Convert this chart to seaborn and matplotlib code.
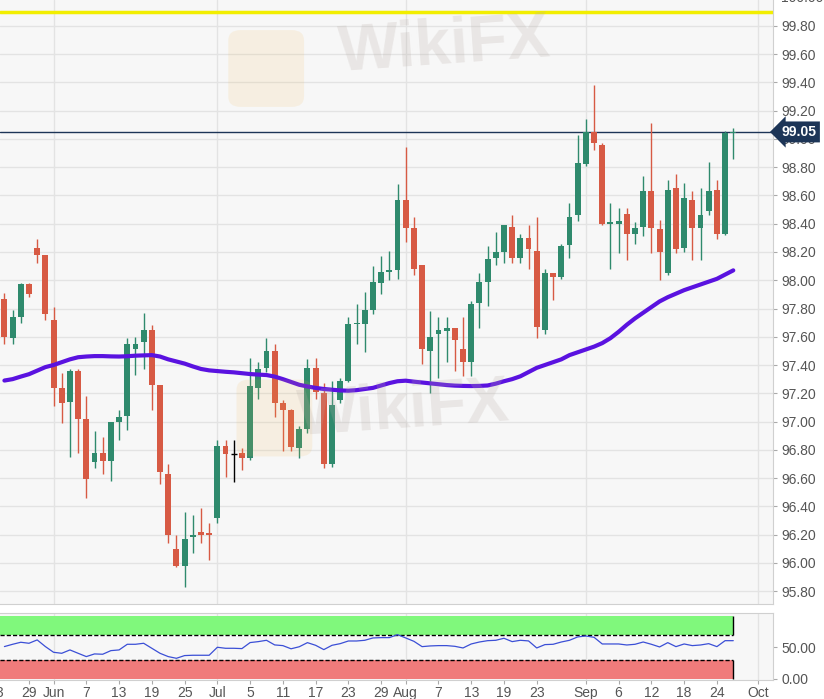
import matplotlib
matplotlib.use('Agg')
import matplotlib.pyplot as plt
import matplotlib.transforms as mtransforms
from matplotlib.patches import FancyBboxPatch
import pandas as pd
import seaborn as sns

# Daily candles, 24 May - 26 Sep (trading days only)
opens = [97.87, 97.59, 97.74, 97.97, 98.23, 98.18, 97.72, 97.24, 97.14, 97.36,
         97.02, 96.71, 96.78, 96.72, 97.00, 97.04, 97.51, 97.56, 97.65, 97.26,
         96.63, 96.10, 95.98, 96.18, 96.22, 96.21, 96.32, 96.83, 96.77, 96.78,
         96.74, 97.24, 97.38, 97.50, 97.13, 97.08, 96.81, 96.95, 97.38, 97.20,
         96.70, 97.15, 97.29, 97.69, 97.69, 97.79, 97.98, 98.06, 98.07, 98.57,
         98.37, 98.11, 97.50, 97.62, 97.64, 97.66, 97.51, 97.42, 97.84, 97.99,
         98.16, 98.20, 98.38, 98.16, 98.30, 98.21, 97.65, 98.05, 98.02, 98.25,
         98.46, 98.82, 99.05, 98.96, 98.40, 98.40, 98.47, 98.33, 98.38, 98.63,
         98.36, 98.05, 98.65, 98.23, 98.57, 98.37, 98.49, 98.64, 98.33, 99.04]
highs = [97.91, 97.79, 97.98, 97.98, 98.29, 98.18, 97.81, 97.34, 97.37, 97.37,
         97.18, 96.93, 96.89, 97.00, 97.08, 97.59, 97.60, 97.77, 97.68, 97.26,
         96.70, 96.20, 96.36, 96.34, 96.39, 96.28, 96.87, 96.87, 96.87, 96.81,
         97.45, 97.42, 97.59, 97.55, 97.15, 97.09, 96.97, 97.44, 97.45, 97.27,
         97.29, 97.31, 97.74, 97.83, 97.92, 98.10, 98.17, 98.21, 98.68, 98.94,
         98.45, 98.11, 97.78, 97.74, 97.74, 97.66, 97.74, 97.85, 98.05, 98.24,
         98.34, 98.39, 98.46, 98.33, 98.39, 98.45, 98.08, 98.05, 98.26, 98.55,
         99.03, 99.14, 99.38, 98.97, 98.55, 98.51, 98.51, 98.41, 98.74, 99.11,
         98.43, 98.71, 98.75, 98.69, 98.63, 98.65, 98.84, 98.71, 99.06, 99.08]
lows = [97.55, 97.55, 97.70, 97.88, 98.12, 97.72, 97.11, 96.99, 96.75, 96.78,
        96.46, 96.67, 96.63, 96.58, 96.87, 96.94, 97.33, 97.37, 97.08, 96.56,
        96.14, 95.97, 95.83, 96.07, 96.14, 96.02, 96.28, 96.61, 96.57, 96.66,
        96.73, 97.16, 97.35, 97.03, 96.79, 96.79, 96.74, 96.92, 97.16, 96.67,
        96.68, 97.13, 97.28, 97.55, 97.49, 97.76, 97.90, 98.00, 98.01, 98.27,
        98.04, 97.41, 97.20, 97.31, 97.42, 97.36, 97.32, 97.32, 97.66, 97.82,
        98.11, 98.12, 98.12, 98.12, 98.08, 97.59, 97.62, 97.86, 98.01, 98.16,
        98.42, 98.81, 98.92, 98.39, 98.08, 98.19, 98.14, 98.26, 98.31, 98.19,
        98.00, 98.04, 98.19, 98.20, 98.14, 98.14, 98.46, 98.29, 98.32, 98.86]
closes = [97.60, 97.74, 97.97, 97.90, 98.18, 97.76, 97.24, 97.13, 97.36, 97.02,
          96.59, 96.78, 96.72, 97.00, 97.03, 97.55, 97.55, 97.65, 97.26, 96.64,
          96.20, 95.98, 96.17, 96.20, 96.20, 96.20, 96.83, 96.77, 96.77, 96.74,
          97.25, 97.37, 97.50, 97.13, 97.08, 96.82, 96.95, 97.38, 97.21, 96.70,
          97.12, 97.29, 97.69, 97.70, 97.79, 97.99, 98.06, 98.07, 98.57, 98.37,
          98.08, 97.51, 97.60, 97.65, 97.66, 97.58, 97.42, 97.83, 97.99, 98.15,
          98.20, 98.39, 98.16, 98.30, 98.22, 97.67, 98.05, 98.02, 98.24, 98.45,
          98.83, 99.05, 98.97, 98.40, 98.41, 98.42, 98.33, 98.37, 98.63, 98.37,
          98.20, 98.64, 98.22, 98.58, 98.37, 98.46, 98.63, 98.33, 99.04, 99.05]

# moving average (purple line)
ma_values = [97.290, 97.300, 97.318, 97.335, 97.360, 97.385, 97.400, 97.420, 97.440, 97.455,
             97.460, 97.463, 97.463, 97.461, 97.460, 97.462, 97.466, 97.468, 97.470, 97.460,
             97.440, 97.425, 97.410, 97.390, 97.372, 97.362, 97.357, 97.352, 97.348, 97.342,
             97.336, 97.332, 97.329, 97.318, 97.300, 97.280, 97.260, 97.248, 97.238, 97.230,
             97.225, 97.220, 97.218, 97.222, 97.230, 97.238, 97.255, 97.272, 97.285, 97.289,
             97.282, 97.276, 97.270, 97.264, 97.258, 97.254, 97.252, 97.251, 97.252, 97.255,
             97.268, 97.285, 97.300, 97.320, 97.350, 97.380, 97.400, 97.420, 97.440, 97.470,
             97.490, 97.510, 97.530, 97.555, 97.590, 97.635, 97.685, 97.730, 97.770, 97.810,
             97.850, 97.880, 97.905, 97.930, 97.950, 97.970, 97.990, 98.010, 98.040, 98.070]

# oscillator in the lower panel
rsi_values = [51.1, 54.7, 57.9, 56.3, 61.6, 51.1, 42.1, 40.5, 45.8, 40.5,
              35.3, 39.5, 39.0, 44.7, 45.8, 54.7, 54.7, 56.3, 48.4, 40.5,
              35.3, 32.6, 36.9, 37.4, 37.4, 37.4, 50.0, 48.4, 48.4, 47.9,
              57.4, 58.9, 61.0, 53.7, 52.6, 47.6, 50.8, 57.3, 53.1, 46.3,
              53.1, 55.7, 59.9, 59.9, 61.0, 64.7, 65.2, 65.2, 69.9, 64.7,
              59.4, 51.0, 52.1, 52.6, 52.6, 51.5, 48.9, 55.2, 58.3, 60.4,
              61.0, 64.2, 58.9, 61.0, 60.0, 48.9, 54.2, 54.7, 58.3, 61.0,
              66.3, 67.8, 65.7, 55.2, 55.2, 55.2, 53.6, 54.7, 58.3, 54.7,
              50.5, 57.3, 51.0, 55.2, 52.6, 53.6, 55.7, 51.0, 60.4, 60.4]

tick_pos = [3, 6, 10, 14, 18, 22, 26, 30, 34, 38, 42, 46, 49, 53, 57, 61, 65,
            71, 75, 79, 83, 87, 92]
tick_labels = ['29', 'Jun', '7', '13', '19', '25', 'Jul', '5', '11', '17', '23',
               '29', 'Aug', '7', '13', '19', '23', 'Sep', '6', '12', '18', '24', 'Oct']
month_pos = [6, 26, 49, 71, 92]
price_ticks = [95.8, 96.0, 96.2, 96.4, 96.6, 96.8, 97.0, 97.2, 97.4, 97.6,
               97.8, 98.0, 98.2, 98.4, 98.6, 98.8, 99.0, 99.2, 99.4, 99.6, 99.8]
last_price = 99.05
resistance = 99.90

df = pd.DataFrame({'day': range(len(opens)), 'open': opens, 'high': highs,
                   'low': lows, 'close': closes, 'ma': ma_values, 'rsi': rsi_values})

sns.set_style('white')
plt.rcParams['font.family'] = ['Liberation Sans', 'DejaVu Sans']

GREEN = '#2f8a6d'
RED = '#d75a44'
GRID = '#e3e3e3'
BG = '#f7f7f7'
TXT = '#555555'

fig = plt.figure(figsize=(8.24, 6.99), dpi=100)
ax = fig.add_axes([0, 0.1359, 0.938, 0.8641])
ax2 = fig.add_axes([0, 0.0272, 0.938, 0.0958])

for a in (ax, ax2):
    a.set_facecolor(BG)
    a.set_axisbelow(True)
    for m in month_pos:
        a.axvline(m, color=GRID, lw=1, zorder=0)
    a.set_xlim(-0.54, 93.84)

# candles
up = df[df.close > df.open]
down = df[df.close < df.open]
flat = df[df.close == df.open]
ax.vlines(up.day, up.low, up.high, color=GREEN, lw=1, zorder=3)
ax.vlines(down.day, down.low, down.high, color=RED, lw=1, zorder=3)
ax.vlines(flat.day, flat.low, flat.high, color='black', lw=1, zorder=3)
ax.bar(up.day, up.close - up.open, bottom=up.open, width=0.72, color=GREEN,
       lw=0, zorder=4)
ax.bar(down.day, down.open - down.close, bottom=down.close, width=0.72, color=RED,
       lw=0, zorder=4)
ax.hlines(flat.close, flat.day - 0.36, flat.day + 0.36, color='black', lw=1, zorder=4)

sns.lineplot(data=df, x='day', y='ma', ax=ax, color='#5a12e0', lw=3, zorder=5)

ax.axhline(resistance, color='#f2ee00', lw=2.5, zorder=2)
ax.axhline(last_price, color='#1d3557', lw=1, zorder=2)

ax.set_ylim(95.708, 99.984)
ax.set_yticks(price_ticks)
ax.set_yticklabels([f'{v:.2f}' for v in price_ticks])
ax.yaxis.tick_right()
ax.tick_params(axis='y', right=True, length=3, pad=3, color='#aaaaaa',
               labelsize=10, labelcolor=TXT)
ax.tick_params(axis='x', bottom=False, labelbottom=False)
ax.grid(axis='y', color=GRID, lw=1)
ax.set_xlabel('')
ax.set_ylabel('')
for s in ('top', 'left'):
    ax.spines[s].set_visible(False)
for s in ('right', 'bottom'):
    ax.spines[s].set_color('#d0d0d0')

blend = mtransforms.blended_transform_factory(ax.transAxes, ax.transData)
ax.text(1.011, 100.0, '100.00', transform=blend, va='center', ha='left',
        color=TXT, fontsize=10, clip_on=False)
ax.text(1.011, last_price, f'{last_price:.2f}', transform=blend, va='center',
        ha='left', color='white', fontsize=10, fontweight='bold', zorder=10,
        bbox=dict(boxstyle='larrow,pad=0.25', fc='#1d3557', ec='none'))

# lower panel
last = df.day.iloc[-1]
ax2.fill_between([-0.54, last], 70, 100, color='#80f87c', lw=0, zorder=1)
ax2.fill_between([-0.54, last], 0, 30, color='#f07b7b', lw=0, zorder=1)
ax2.hlines([70, 30], -0.54, last, color='black', lw=1, ls=(0, (3, 1.5)), zorder=2)
ax2.vlines(last, 0, 30, color='black', lw=1, zorder=2)
ax2.vlines(last, 70, 100, color='black', lw=1, zorder=2)
sns.lineplot(data=df, x='day', y='rsi', ax=ax2, color='#3b4fd6', lw=0.9, zorder=3)
ax2.set_ylim(-1.6, 104)
ax2.set_yticks([0, 50])
ax2.set_yticklabels(['0.00', '50.00'])
ax2.yaxis.tick_right()
ax2.tick_params(axis='y', right=True, length=3, pad=3, color='#aaaaaa',
                labelsize=10, labelcolor=TXT)
ax2.set_xticks(tick_pos)
ax2.set_xticklabels(tick_labels)
ax2.tick_params(axis='x', bottom=True, length=3, pad=1, color='#aaaaaa',
                labelsize=10, labelcolor=TXT)
ax2.set_xlabel('')
ax2.set_ylabel('')
ax2.spines['left'].set_visible(False)
for s in ('top', 'right', 'bottom'):
    ax2.spines[s].set_color('#d0d0d0')
ax2.annotate('23', xy=(-1, 0), xycoords=('data', 'axes fraction'),
             xytext=(0, -4), textcoords='offset points', ha='center', va='top',
             color=TXT, fontsize=10, annotation_clip=False)

# faint watermarks
for (lx, ly, tx, ty) in [(0.282, 0.852, 0.54, 0.933), (0.292, 0.352, 0.49, 0.413)]:
    fig.patches.append(FancyBboxPatch((lx, ly), 0.082, 0.1,
                                      boxstyle='round,pad=0.005,rounding_size=0.015',
                                      transform=fig.transFigure, fc='#f2b54a',
                                      ec='none', alpha=0.12, zorder=6))
    fig.text(tx, ty, 'WikiFX', ha='center', va='center', fontsize=46,
             fontweight='bold', color='#b8aca6', alpha=0.22, rotation=4, zorder=6)

fig.savefig('out.png', dpi=100, facecolor='white')
